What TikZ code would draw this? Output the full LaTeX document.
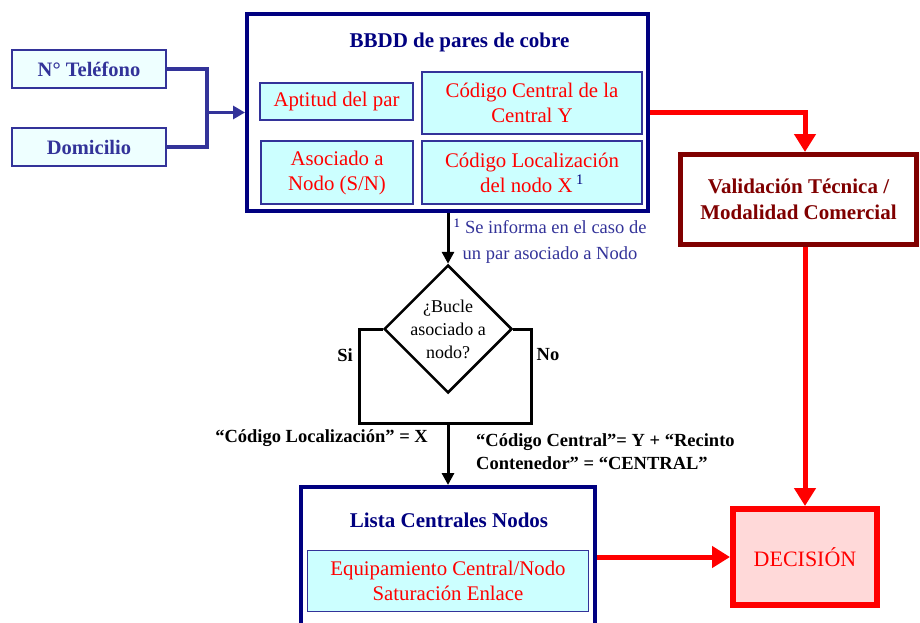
\documentclass[tikz,border=0pt]{standalone}
\usepackage{fontspec}
\setmainfont{Liberation Serif}
\usetikzlibrary{arrows.meta,shapes.geometric,calc}
\definecolor{navy}{HTML}{000080}
\definecolor{indigo}{HTML}{333399}
\definecolor{palecyan}{HTML}{CCFFFF}
\definecolor{icecyan}{HTML}{EEFFFF}
\definecolor{dkred}{HTML}{800000}
\definecolor{pinkfill}{HTML}{FFD9D9}
\definecolor{pureRed}{HTML}{FF0000}
\begin{document}
\begin{tikzpicture}[x=1pt,y=-1pt,
  inbox/.style={draw=indigo, line width=1.5pt, fill=icecyan, text=indigo,
    font=\bfseries\fontsize{20.5}{24}\selectfont,
    minimum width=154pt, minimum height=38pt, inner sep=0pt},
  bigbox/.style={draw=navy, line width=4pt, fill=white, inner sep=0pt},
  boxtitle/.style={text=navy, font=\bfseries\fontsize{21}{24}\selectfont, inner sep=0pt},
  field/.style={draw=indigo, line width=1.5pt, fill=palecyan, text=pureRed,
    font=\fontsize{20.8}{25}\selectfont, align=center, inner sep=0pt},
  valbox/.style={draw=dkred, line width=5pt, fill=white, text=dkred,
    font=\bfseries\fontsize{21}{26}\selectfont, align=center, inner sep=0pt},
  decbox/.style={draw=pureRed, line width=6pt, fill=pinkfill, text=pureRed,
    font=\fontsize{22}{25}\selectfont, inner sep=0pt},
  blueline/.style={draw=indigo, line width=3.5pt},
  redline/.style={draw=pureRed, line width=5pt},
  blackline/.style={draw=black, line width=3pt},
  bluetip/.style={-{Triangle[length=12pt,width=13pt]}},
  redtip/.style={-{Triangle[length=18pt,width=21pt]}},
  blacktip/.style={-{Triangle[length=12pt,width=12pt]}},
  cond/.style={font=\bfseries\fontsize{18.5}{23}\selectfont, inner sep=0pt},
  note/.style={text=indigo, font=\fontsize{18.5}{26}\selectfont, align=center, inner sep=0pt}
]
\path[use as bounding box] (0,0) rectangle (920,623);
\clip (0,0) rectangle (920,623);

% inputs
\node[inbox] (tel) at (89,69) {N° Teléfono};
\node[inbox] (dom) at (89,147) {Domicilio};

% BBDD box
\node[bigbox, minimum width=401pt, minimum height=197pt] (bbdd) at (447.5,112.5) {};
\node[boxtitle, anchor=base] (bbddt) at (459.5,48) {BBDD de pares de cobre};
\node[field, minimum width=153pt, minimum height=37pt] (apt) at (336.5,101.5) {Aptitud del par};
\node[field, minimum width=220pt, minimum height=62pt] (ccen) at (532,103) {Código Central de la\\Central Y};
\node[field, minimum width=152pt, minimum height=63pt] (aso) at (337,172.5) {Asociado a\\Nodo (S/N)};
\node[field, minimum width=220pt, minimum height=63pt] (cloc) at (532,172.5) {Código Localización\\del nodo X\,\textcolor{navy}{\textsuperscript{1}}};

% footnote
\node[note] (fn) at (550,241) {\textcolor{navy}{\textsuperscript{1}} Se informa en el caso de\\un par asociado a Nodo};

% validation
\node[valbox, minimum width=236pt, minimum height=90pt] (val) at (798.5,199.5) {Validación Técnica /\\Modalidad Comercial};

% decision diamond
\node[diamond, draw=black, line width=2.5pt, fill=white, minimum width=128pt, minimum height=128pt, inner sep=0pt,
  label={[align=center, font=\fontsize{18}{23}\selectfont]center:¿Bucle\\asociado a\\nodo?}] (dia) at (448,329) {};
\coordinate (lt) at (359,329);
\coordinate (rt) at (531,329);
\coordinate (lb) at (359,423);
\coordinate (rb) at (531,423);
\coordinate (mb) at (448,423);
\node[cond] (si) at (345,355) {Si};
\node[cond] (no) at (548,355) {No};
\node[cond, anchor=east] (cl) at (428,438) {“Código Localización” = X};
\node[cond, anchor=west, align=left] (cc) at (476,451.5) {“Código Central”= Y + “Recinto\\Contenedor” = “CENTRAL”};

% Lista box
\node[bigbox, minimum width=294pt, minimum height=213pt] (lista) at (448,593.5) {};
\node[boxtitle] (listat) at (449,520) {Lista Centrales Nodos};
\node[field, minimum width=281pt, minimum height=61pt] (equip) at (448,581) {Equipamiento Central/Nodo\\Saturación Enlace};

% DECISION
\node[decbox, minimum width=144pt, minimum height=96pt] (dec) at (805,557) {DECISIÓN};

% connectors
\coordinate (j) at (207,112.5);
\draw[blueline] (tel.east) -| (j);
\draw[blueline] (dom.east) -| (j);
\draw[blueline, bluetip] (j) -- (bbdd.west |- j);

\draw[redline, redtip] (bbdd.east) -| (dec.north |- val.north);
\draw[redline, redtip] (dec.north |- val.south) -- (dec.north);
\draw[redline, redtip] (lista.east |- dec.west) -- (dec.west);

\draw[blackline, blacktip] (bbdd.south -| dia.north) -- (dia.north);
\draw[blackline] (dia.west) -- (lt) -- (lb) -- (rb) -- (rt) -- (dia.east);
\draw[blackline, blacktip] (mb) -- (lista.north -| mb);
\end{tikzpicture}
\end{document}
